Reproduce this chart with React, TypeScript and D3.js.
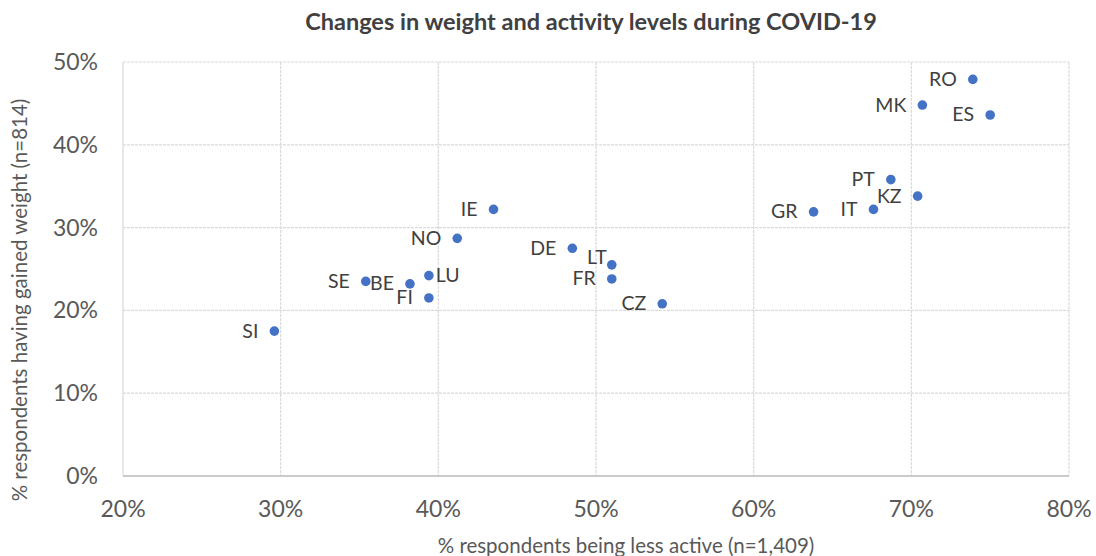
import React from "react";
import * as d3 from "d3";

const countries = ["RO","MK","ES","PT","KZ","IT","GR","IE","NO","DE","LT","FR","CZ","LU","SE","BE","FI","SI"];
const lessActive = [73.9,70.7,75.0,68.7,70.4,67.6,63.8,43.5,41.2,48.5,51.0,51.0,54.2,39.4,35.4,38.2,39.4,29.6];
const gainedWeight = [47.9,44.8,43.6,35.8,33.8,32.2,31.9,32.2,28.7,27.5,25.5,23.8,20.8,24.2,23.5,23.2,21.5,17.5];
const labelSide = ["left","left","left","left","left","left","left","left","left","left","aboveleft","left","left","right","left","left","left","left"];
const xTicks = [20,30,40,50,60,70,80];
const yTicks = [0,10,20,30,40,50];

const W = 1096, H = 556;
const M = { l: 123, r: 1069, t: 62, b: 476 };
const FONT = "Lato, 'Open Sans', sans-serif";

export default function App() {
  const x = d3.scaleLinear().domain([20, 80]).range([M.l, M.r]);
  const y = d3.scaleLinear().domain([0, 50]).range([M.b, M.t]);
  return (
    <svg width={W} height={H} style={{ position: "absolute", left: 0, top: 0, background: "#fff" }} fontFamily={FONT}>
      <rect x={0} y={0} width={W} height={H} fill="#fff" />
      <text x={591} y={30} textAnchor="middle" fontSize={23.5} fontWeight="bold" fill="#404040">
        Changes in weight and activity levels during COVID-19
      </text>
      {xTicks.map((t) => (
        <line key={"gx" + t} x1={x(t)} x2={x(t)} y1={M.t} y2={M.b} stroke="#d9d9d9" strokeWidth={1.2} strokeDasharray={t === 20 ? undefined : "3,1"} />
      ))}
      {yTicks.map((t) => (
        <line key={"gy" + t} x1={M.l} x2={M.r} y1={y(t)} y2={y(t)} stroke="#d9d9d9" strokeWidth={1.2} strokeDasharray={t === 0 ? undefined : "3,1"} />
      ))}
      <line x1={M.l} x2={M.r} y1={M.b} y2={M.b} stroke="#bfbfbf" strokeWidth={1.3} />
      {yTicks.map((t) => (
        <text key={"ty" + t} x={M.l - 25} y={y(t) + 8} textAnchor="end" fontSize={23} fill="#595959">{t}%</text>
      ))}
      {xTicks.map((t) => (
        <text key={"tx" + t} x={x(t)} y={517} textAnchor="middle" fontSize={23} fill="#595959">{t}%</text>
      ))}
      <text x={626} y={553} textAnchor="middle" fontSize={20.5} fill="#595959">% respondents  being less active (n=1,409)</text>
      <text transform={`translate(27,${300}) rotate(-90)`} textAnchor="middle" fontSize={20.5} fill="#595959">% respondents  having gained weight (n=814)</text>
      {countries.map((c, i) => {
        const px = x(lessActive[i]);
        const py = y(gainedWeight[i]);
        const side = labelSide[i];
        let lx = px - 16, ly = py + 6.5, anchor: "end" | "start" = "end";
        if (side === "right") { lx = px + 7; anchor = "start"; ly = py + 6.5; }
        if (side === "aboveleft") { lx = px - 5; ly = py - 1; }
        return (
          <g key={c}>
            <circle cx={px} cy={py} r={4.8} fill="#4472C4" />
            <text x={lx} y={ly} textAnchor={anchor} fontSize={19.5} fill="#404040">{c}</text>
          </g>
        );
      })}
    </svg>
  );
}
